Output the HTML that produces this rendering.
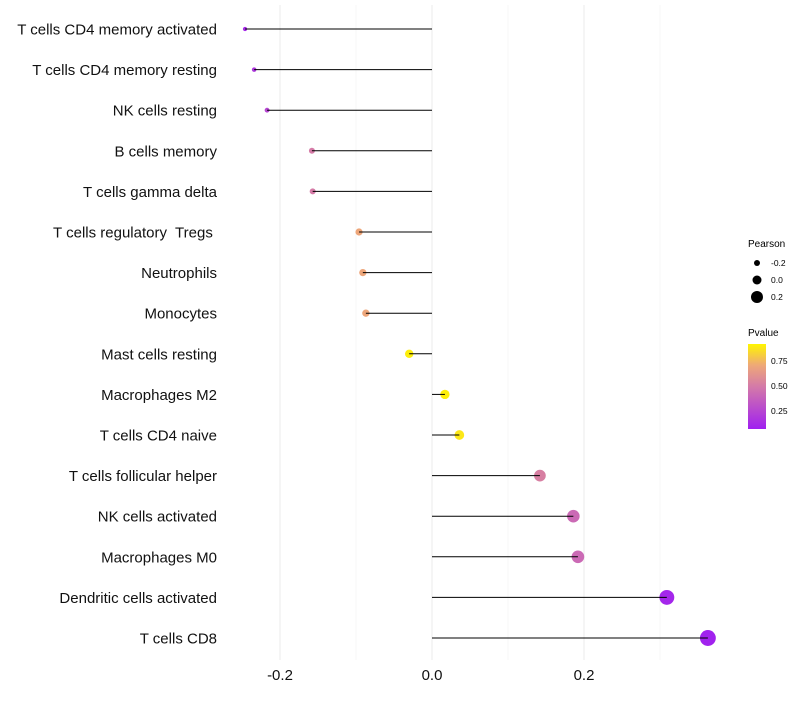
<!DOCTYPE html>
<html><head><meta charset="utf-8"><style>
body{margin:0;background:#fff;font-family:"Liberation Sans",sans-serif}
text{white-space:pre}
</style></head><body>
<svg id="c" width="800" height="700" xmlns="http://www.w3.org/2000/svg">
<defs><linearGradient id="pg" x1="0" y1="1" x2="0" y2="0">
<stop offset="0" stop-color="#A020F0"/><stop offset="0.5" stop-color="#D47AA8"/><stop offset="0.75" stop-color="#EEA878"/><stop offset="1" stop-color="#FFF500"/>
</linearGradient></defs>
<g id="grid"></g><g id="marks"></g><g id="labels"></g>
<g font-size="10" fill="#000">
<text x="748" y="247">Pearson</text>
<circle cx="757" cy="263" r="3" fill="#000"/><text x="771" y="266" font-size="8.5">-0.2</text>
<circle cx="757" cy="280" r="4.5" fill="#000"/><text x="771" y="283" font-size="8.5">0.0</text>
<circle cx="757" cy="297" r="6" fill="#000"/><text x="771" y="300" font-size="8.5">0.2</text>
<text x="748" y="336">Pvalue</text>
<rect x="748" y="344" width="18" height="85" fill="url(#pg)"/>
<text x="771" y="364" font-size="8.5">0.75</text>
<text x="771" y="389" font-size="8.5">0.50</text>
<text x="771" y="414" font-size="8.5">0.25</text>
</g>
</svg>
<script>
const categories=["T cells CD4 memory activated","T cells CD4 memory resting","NK cells resting","B cells memory","T cells gamma delta","T cells regulatory  Tregs ","Neutrophils","Monocytes","Mast cells resting","Macrophages M2","T cells CD4 naive","T cells follicular helper","NK cells activated","Macrophages M0","Dendritic cells activated","T cells CD8"];
const pearson=[-0.246,-0.234,-0.217,-0.158,-0.157,-0.096,-0.091,-0.087,-0.030,0.017,0.036,0.142,0.186,0.192,0.309,0.363];
const pvalue=[0.12,0.18,0.25,0.50,0.50,0.70,0.70,0.70,0.90,0.90,0.88,0.52,0.42,0.42,0.10,0.08];
const xTicks=[-0.2,0.0,0.2];
const xTickLabels=["-0.2","0.0","0.2"];
const minorTicks=[-0.1,0.1,0.3];
const NS="http://www.w3.org/2000/svg";
const x=v=>432+v*760;
const y=i=>29+i*40.6;
const size=v=>4.5+9.5*v;
function lerp(a,b,t){return a.map((c,k)=>Math.round(c+(b[k]-c)*t));}
const stops=[[0,[160,32,240]],[0.5,[212,122,168]],[0.75,[238,168,120]],[1,[255,245,0]]];
function col(p){const t=Math.max(0,Math.min(1,(p-0.07)/0.85));
for(let k=1;k<stops.length;k++){if(t<=stops[k][0]){const a=stops[k-1],b=stops[k];return `rgb(${lerp(a[1],b[1],(t-a[0])/(b[0]-a[0]))})`;}}
return 'rgb(255,245,0)';}
function mk(tag,attrs,parent){const e=document.createElementNS(NS,tag);for(const k in attrs)e.setAttribute(k,attrs[k]);parent.appendChild(e);return e;}
const grid=document.getElementById('grid'),marks=document.getElementById('marks'),labels=document.getElementById('labels');
minorTicks.forEach(t=>{const l=mk('line',{x1:x(t),x2:x(t),y1:5,y2:660,stroke:'#f2f2f2','stroke-width':0.6},grid);

});
xTicks.forEach((t,i)=>{const l=mk('line',{x1:x(t),x2:x(t),y1:5,y2:660,stroke:'#ebebeb','stroke-width':1},grid);


const tx=mk('text',{x:x(t),y:680,'text-anchor':'middle','font-size':15,fill:'#111'},labels);tx.textContent=xTickLabels[i];

});
categories.forEach((c,i)=>{
const t=mk('text',{x:217,y:y(i)+5.5,'text-anchor':'end','font-size':15,fill:'#111'},labels);t.textContent=c;


const d=mk('circle',{cx:x(pearson[i]),cy:y(i),r:size(pearson[i]),fill:col(pvalue[i])},marks);


const l=mk('line',{x1:x(0),x2:x(pearson[i]),y1:y(i),y2:y(i),stroke:'#000','stroke-width':1},marks);


});
</script>
</body></html>
